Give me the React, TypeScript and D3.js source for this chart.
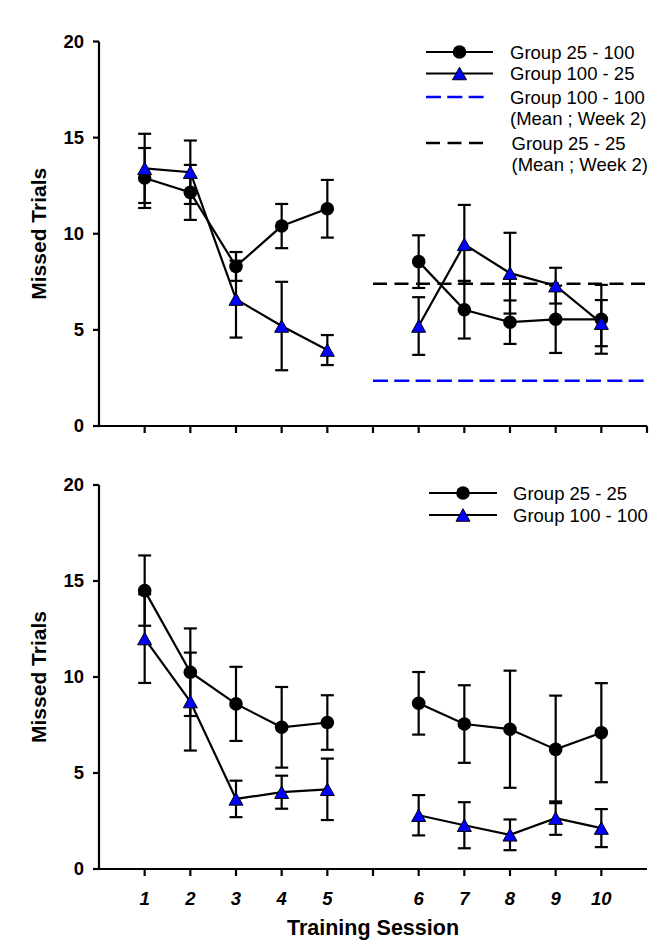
import React from "react";
import * as d3 from "d3";

const sessions = [1, 2, 3, 4, 5, 6, 7, 8, 9, 10];
const sessionPos = [1, 2, 3, 4, 5, 7, 8, 9, 10, 11];
const yTicks = [0, 5, 10, 15, 20];

// Top panel
const g25_100Mean = [12.9, 12.15, 8.3, 10.4, 11.3, 8.55, 6.05, 5.4, 5.55, 5.55];
const g25_100Err = [1.56, 1.43, 0.75, 1.15, 1.5, 1.37, 1.5, 1.13, 1.75, 1.79];
const g100_25Mean = [13.4, 13.2, 6.6, 5.2, 3.95, 5.2, 9.45, 7.95, 7.3, 5.35];
const g100_25Err = [1.8, 1.65, 2.0, 2.3, 0.78, 1.5, 2.05, 2.1, 0.93, 1.2];
const mean25_25Week2 = 7.4;
const mean100_100Week2 = 2.35;

// Bottom panel
const g25_25Mean = [14.5, 10.25, 8.6, 7.38, 7.63, 8.63, 7.55, 7.28, 6.23, 7.1];
const g25_25Err = [1.83, 2.28, 1.93, 2.1, 1.42, 1.63, 2.02, 3.05, 2.8, 2.58];
const g100_100Mean = [12.0, 8.72, 3.65, 4.0, 4.15, 2.8, 2.28, 1.78, 2.65, 2.13];
const g100_100Err = [2.31, 2.55, 0.95, 0.86, 1.6, 1.05, 1.2, 0.8, 0.87, 0.99];

const FONT = "Arial, 'Liberation Sans', sans-serif";
const BLUE = "#0000ff";
const SW = 2.2;

const x = d3.scaleLinear().domain([0, 12]).range([99, 647]);

type Series = { mean: number[]; err: number[]; marker: "circle" | "triangle" };

function triPath(cx: number, cy: number) {
  const w = 14, h = 12.5;
  return `M${cx},${cy - h / 2}L${cx + w / 2},${cy + h / 2}L${cx - w / 2},${cy + h / 2}Z`;
}

function Panel({ y0, y1, series, axisEndTick, children }: { y0: number; y1: number; series: Series[]; axisEndTick: boolean; children?: React.ReactNode }) {
  const y = d3.scaleLinear().domain([0, 20]).range([y0, y1]);
  const line = d3.line<[number, number]>().x(d => d[0]).y(d => d[1]);
  const xTickPos = d3.range(1, axisEndTick ? 13 : 12);
  return (
    <g>
      <line x1={x(0)} x2={x(0)} y1={y(0) + 1} y2={y(20)} stroke="#000" strokeWidth={SW} />
      <line x1={x(0) - 1} x2={x(12)} y1={y(0)} y2={y(0)} stroke="#000" strokeWidth={SW} />
      {yTicks.map(t => (
        <g key={t}>
          <line x1={x(0) - 6} x2={x(0)} y1={y(t)} y2={y(t)} stroke="#000" strokeWidth={SW} />
          <text x={84} y={y(t)} dy="0.35em" textAnchor="end" fontFamily={FONT} fontWeight="bold" fontSize={18.5}>{t}</text>
        </g>
      ))}
      {xTickPos.map(p => (
        <line key={p} x1={x(p)} x2={x(p)} y1={y(0)} y2={y(0) + 7} stroke="#000" strokeWidth={SW} />
      ))}
      <text transform={`translate(46,${(y(0) + y(20)) / 2}) rotate(-90)`} textAnchor="middle" fontFamily={FONT} fontWeight="bold" fontSize={21}>Missed Trials</text>
      {children}
      {series.map((s, si) => {
        const pts: [number, number][] = s.mean.map((m, i) => [x(sessionPos[i]), y(m)]);
        return (
          <g key={si}>
            {s.mean.map((m, i) => {
              const cx = x(sessionPos[i]);
              const top = y(m + s.err[i]);
              const bot = y(m - s.err[i]);
              return (
                <g key={i} stroke="#000" strokeWidth={SW}>
                  <line x1={cx} x2={cx} y1={top} y2={bot} />
                  <line x1={cx - 6.5} x2={cx + 6.5} y1={top} y2={top} />
                  <line x1={cx - 6.5} x2={cx + 6.5} y1={bot} y2={bot} />
                </g>
              );
            })}
            <path d={line(pts.slice(0, 5)) || ""} fill="none" stroke="#000" strokeWidth={SW} />
            <path d={line(pts.slice(5)) || ""} fill="none" stroke="#000" strokeWidth={SW} />
          </g>
        );
      })}
      {series.map((s, si) => (
        <g key={"m" + si}>
          {s.mean.map((m, i) => {
            const cx = x(sessionPos[i]);
            const cy = y(m);
            return s.marker === "circle" ? (
              <circle key={i} cx={cx} cy={cy} r={6.8} fill="#000" />
            ) : (
              <path key={i} d={triPath(cx, cy)} fill={BLUE} stroke="#000" strokeWidth={1} />
            );
          })}
        </g>
      ))}
    </g>
  );
}

function LegendRow({ x0, x1, cy, marker, dash, color, tx, lines }: { x0: number; x1: number; cy: number; marker?: "circle" | "triangle"; dash?: string; color: string; tx: number; lines: string[] }) {
  const mx = (x0 + x1) / 2;
  return (
    <g>
      <line x1={x0} x2={x1} y1={cy} y2={cy} stroke={color} strokeWidth={dash ? 2.5 : SW} strokeDasharray={dash} />
      {marker === "circle" && <circle cx={mx} cy={cy} r={6.8} fill="#000" />}
      {marker === "triangle" && <path d={triPath(mx, cy)} fill={BLUE} stroke="#000" strokeWidth={1} />}
      {lines.map((t, i) => (
        <text key={i} x={tx} y={cy + i * 21.5} dy="0.36em" fontFamily={FONT} fontSize={18.5}>{t}</text>
      ))}
    </g>
  );
}

export default function App() {
  const yTop = d3.scaleLinear().domain([0, 20]).range([426, 41.5]);
  return (
    <svg width={664} height={951} style={{ position: "absolute", left: 0, top: 0, background: "#fff" }}>
      <rect width={664} height={951} fill="#fff" />
      <Panel y0={426} y1={41.5} axisEndTick={true}
        series={[
          { mean: g25_100Mean, err: g25_100Err, marker: "circle" },
          { mean: g100_25Mean, err: g100_25Err, marker: "triangle" },
        ]}>
        <line x1={x(6)} x2={x(12)} y1={yTop(mean25_25Week2)} y2={yTop(mean25_25Week2)} stroke="#000" strokeWidth={2.5} strokeDasharray="14,7.5" />
        <line x1={x(6)} x2={x(12)} y1={yTop(mean100_100Week2)} y2={yTop(mean100_100Week2)} stroke={BLUE} strokeWidth={2.5} strokeDasharray="15,6.3" />
      </Panel>
      <Panel y0={869} y1={485} axisEndTick={false}
        series={[
          { mean: g25_25Mean, err: g25_25Err, marker: "circle" },
          { mean: g100_100Mean, err: g100_100Err, marker: "triangle" },
        ]} />
      <LegendRow x0={426} x1={493} cy={52} marker="circle" color="#000" tx={510} lines={["Group 25 - 100"]} />
      <LegendRow x0={426} x1={493} cy={73.5} marker="triangle" color="#000" tx={510} lines={["Group 100 - 25"]} />
      <LegendRow x0={426} x1={487} cy={97} dash="15,6.3" color={BLUE} tx={510} lines={["Group 100 - 100", "(Mean ; Week 2)"]} />
      <LegendRow x0={426} x1={487} cy={143} dash="14,7.5" color="#000" tx={511.5} lines={["Group 25 - 25", "(Mean ; Week 2)"]} />
      <LegendRow x0={429} x1={497} cy={493} marker="circle" color="#000" tx={513} lines={["Group 25 - 25"]} />
      <LegendRow x0={429} x1={497} cy={515} marker="triangle" color="#000" tx={513} lines={["Group 100 - 100"]} />
      {sessions.map((s, i) => (
        <text key={s} x={x(sessionPos[i])} y={905} textAnchor="middle" fontFamily={FONT} fontWeight="bold" fontStyle="italic" fontSize={18.5}>{s}</text>
      ))}
      <text x={x(6)} y={935} textAnchor="middle" fontFamily={FONT} fontWeight="bold" fontSize={21.5}>Training Session</text>
    </svg>
  );
}
